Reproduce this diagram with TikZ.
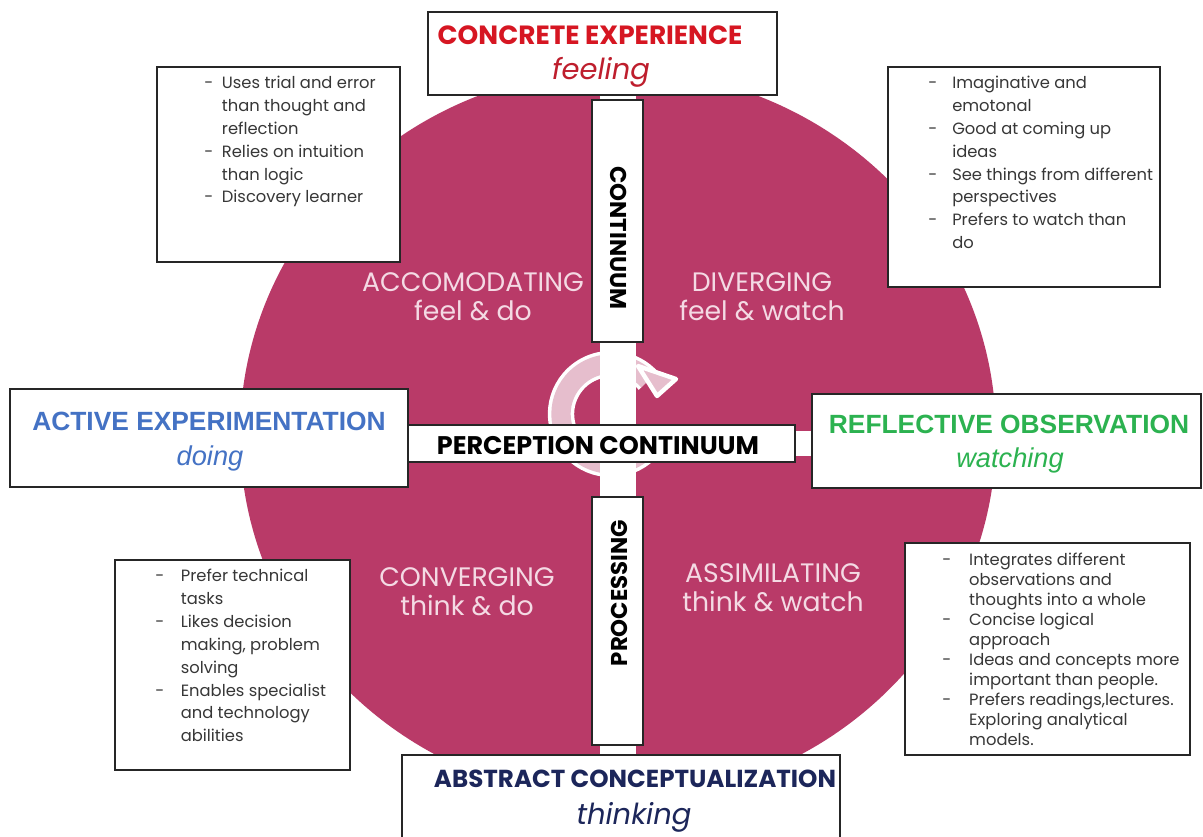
\documentclass[tikz,border=0pt]{standalone}
\usepackage{fontspec}
\setmainfont{Poppins}
\newfontfamily\arialf{Liberation Sans}
\definecolor{mag}{RGB}{185,58,104}
\definecolor{qtext}{RGB}{244,218,228}
\definecolor{cered}{RGB}{214,22,34}
\definecolor{ceital}{RGB}{190,30,45}
\definecolor{aeblue}{RGB}{68,114,196}
\definecolor{rogreen}{RGB}{44,178,80}
\definecolor{acnavy}{RGB}{28,38,90}
\definecolor{arrowpink}{RGB}{230,190,205}
\definecolor{bodytext}{RGB}{55,55,55}
\newcommand{\bl}[2]{\makebox[#1][l]{-}#2}
\newcommand{\ct}[2]{\hspace*{#1}#2}
\tikzset{
  box/.style={draw=black!85, line width=1pt, fill=white, rectangle, inner sep=0pt},
  quad/.style={text=qtext, align=center, font=\fontsize{15.2}{16.4}\selectfont},
  list/.style={text=bodytext, align=left, anchor=north west, inner sep=0pt},
  vlabel/.style={font=\bfseries\fontsize{13}{15}\selectfont, text=black}
}
\begin{document}
\begin{tikzpicture}[x=0.02cm,y=-0.02cm]
\useasboundingbox (0,0) rectangle (1203,836);
\clip (0,0) rectangle (1203,836);
\fill[white] (0,0) rectangle (1203,836);
% big disc
\fill[mag] (618,435) ellipse [x radius=378, y radius=365];
% cycle arrow
\coordinate (ac) at (611,414);
\draw[white, line width=15] (ac) ++(40:50) arc[start angle=40, end angle=318, radius=50];
\draw[arrowpink, line width=11] (ac) ++(40:50) arc[start angle=40, end angle=318, radius=50];
\coordinate (h1) at (638,366);
\coordinate (h2) at (657,396);
\coordinate (h3) at (676,379);
\filldraw[fill=arrowpink, draw=white, line width=2.5, line join=round] (h1) -- (h3) -- (h2) -- cycle;
% white strips
\fill[white] (600,95) rectangle (636,760);
\fill[white] (400,431) rectangle (815,456);
% axis boxes
\node[box, minimum width=51*0.02cm, minimum height=242*0.02cm] (cont) at (617.5,221) {};
\node[vlabel, rotate=-90] (contl) at (619,238) {CONTINUUM};
\node[box, minimum width=51*0.02cm, minimum height=248*0.02cm] (proc) at (617.5,621) {};
\node[vlabel, rotate=90] (procl) at (619,593) {PROCESSING};
\node[box, minimum width=387*0.02cm, minimum height=37*0.02cm] (perc) at (601.5,443.5) {};
\node[font=\bfseries\fontsize{14.5}{16}\selectfont] (percl) at (598,446) {PERCEPTION CONTINUUM};
% pole boxes
\node[box, minimum width=349*0.02cm, minimum height=83*0.02cm] (ce) at (602.5,53.5) {};
\node[text=cered, font=\bfseries\fontsize{15}{17}\selectfont] (cet) at (590,35) {CONCRETE EXPERIENCE};
\node[text=ceital, font=\itshape\fontsize{16.5}{18}\selectfont] (ces) at (601,72) {feeling};

\node[box, minimum width=398*0.02cm, minimum height=98*0.02cm] (ae) at (209,438) {};
\node[text=aeblue, font=\arialf\bfseries\fontsize{15}{17}\selectfont] (aet) at (209,421) {ACTIVE EXPERIMENTATION};
\node[text=aeblue, font=\arialf\itshape\fontsize{15.5}{17}\selectfont] (aes) at (210,458) {doing};

\node[box, minimum width=389*0.02cm, minimum height=94*0.02cm] (ro) at (1006.5,441) {};
\node[text=rogreen, font=\arialf\bfseries\fontsize{15}{17}\selectfont] (rot) at (1009,424) {REFLECTIVE OBSERVATION};
\node[text=rogreen, font=\arialf\itshape\fontsize{15.5}{17}\selectfont] (ros) at (1010,460) {watching};

\node[box, minimum width=438*0.02cm, minimum height=100*0.02cm] (ab) at (621,805) {};
\node[text=acnavy, font=\bfseries\fontsize{14}{16}\selectfont] (abt) at (635,779) {ABSTRACT CONCEPTUALIZATION};
\node[text=acnavy, font=\itshape\fontsize{16.5}{18}\selectfont] (abs) at (634,817) {thinking};
% quadrant labels
\node[quad] (acc) at (473,297) {ACCOMODATING\\feel \& do};
\node[quad] (div) at (762,297) {DIVERGING\\feel \& watch};
\node[quad] (conv) at (467,592) {CONVERGING\\think \& do};
\node[quad] (assim) at (773,588) {ASSIMILATING\\think \& watch};
% description boxes
\node[box, minimum width=243*0.02cm, minimum height=195*0.02cm] (tlbox) at (278.5,164.5) {};
\node[list, font=\fontsize{9.3}{13}\selectfont] (tltxt) at (204,76) {%
\bl{10pt}{Uses trial and error}\\
\ct{10pt}{than thought and}\\
\ct{10pt}{reflection}\\
\bl{10pt}{Relies on intuition}\\
\ct{10pt}{than logic}\\
\bl{10pt}{Discovery learner}};

\node[box, minimum width=272*0.02cm, minimum height=220*0.02cm] (trbox) at (1024,177) {};
\node[list, font=\fontsize{9.3}{13}\selectfont] (trtxt) at (928,76) {%
\bl{13.6pt}{Imaginative and}\\
\ct{13.6pt}{emotonal}\\
\bl{13.6pt}{Good at coming up}\\
\ct{13.6pt}{ideas}\\
\bl{13.6pt}{See things from different}\\
\ct{13.6pt}{perspectives}\\
\bl{13.6pt}{Prefers to watch than}\\
\ct{13.6pt}{do}};

\node[box, minimum width=235*0.02cm, minimum height=210*0.02cm] (blbox) at (232.5,665) {};
\node[list, font=\fontsize{9.3}{13}\selectfont] (bltxt) at (155,569) {%
\bl{14.5pt}{Prefer technical}\\
\ct{14.5pt}{tasks}\\
\bl{14.5pt}{Likes decision}\\
\ct{14.5pt}{making, problem}\\
\ct{14.5pt}{solving}\\
\bl{14.5pt}{Enables specialist}\\
\ct{14.5pt}{and technology}\\
\ct{14.5pt}{abilities}};

\node[box, minimum width=285*0.02cm, minimum height=212*0.02cm] (brbox) at (1047.5,649) {};
\node[list, font=\fontsize{9.3}{11.34}\selectfont] (brtxt) at (942,553) {%
\bl{15.3pt}{Integrates different}\\
\ct{15.3pt}{observations and}\\
\ct{15.3pt}{thoughts into a whole}\\
\bl{15.3pt}{Concise logical}\\
\ct{15.3pt}{approach}\\
\bl{15.3pt}{Ideas and concepts more}\\
\ct{15.3pt}{important than people.}\\
\bl{15.3pt}{Prefers readings,lectures.}\\
\ct{15.3pt}{Exploring analytical}\\
\ct{15.3pt}{models.}};
\end{tikzpicture}
\end{document}
